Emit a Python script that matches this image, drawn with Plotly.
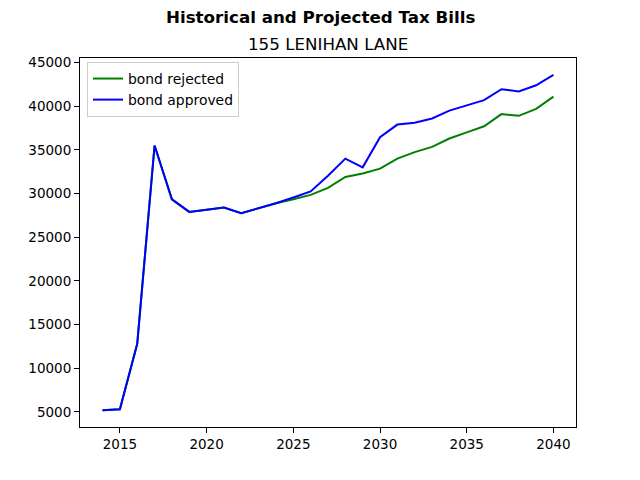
import plotly.graph_objects as go

years = list(range(2014, 2041))
bond_rejected = [5200, 5300, 12800, 35500, 29350, 27900, 28150, 28400, 27750, 28300,
                 28900, 29350, 29850, 30650, 31900, 32300, 32850, 34000, 34750, 35350,
                 36300, 37000, 37700, 39100, 38900, 39700, 41100]
bond_approved = [5200, 5300, 12800, 35500, 29350, 27900, 28150, 28400, 27750, 28300,
                 28900, 29550, 30250, 32050, 34000, 33000, 36450, 37900, 38100, 38600,
                 39500, 40100, 40700, 41950, 41700, 42400, 43600]
x_ticks = [2015, 2020, 2025, 2030, 2035, 2040]
y_ticks = [5000, 10000, 15000, 20000, 25000, 30000, 35000, 40000, 45000]

font = "DejaVu Sans"

fig = go.Figure()
fig.add_trace(go.Scatter(x=years, y=bond_rejected, mode="lines", name="bond rejected",
                         line=dict(color="#008000", width=2)))
fig.add_trace(go.Scatter(x=years, y=bond_approved, mode="lines", name="bond approved",
                         line=dict(color="#0000ff", width=2)))

axis_common = dict(showline=True, linecolor="black", linewidth=1, mirror=True,
                   showgrid=False, zeroline=False, ticks="outside", ticklen=5,
                   tickwidth=1, tickcolor="black",
                   tickfont=dict(family=font, size=13.5, color="black"))

plot_w = 640 - 80 - 64
plot_h = 480 - 58 - 53

fig.update_layout(
    width=640, height=480,
    margin=dict(l=80, r=64, t=58, b=53),
    paper_bgcolor="white", plot_bgcolor="white",
    font=dict(family=font, color="black"),
    xaxis=dict(range=[2012.7, 2041.3], tickvals=x_ticks, **axis_common),
    yaxis=dict(range=[3280, 45520], tickvals=y_ticks, tickformat="d", **axis_common),
    legend=dict(x=(87 - 80) / plot_w, y=1 - (62 - 58) / plot_h, xanchor="left", yanchor="top",
                bgcolor="rgba(255,255,255,0.8)", bordercolor="#cccccc", borderwidth=1,
                font=dict(family=font, size=13.9, color="black"),
                tracegroupgap=0, itemwidth=30),
    showlegend=True,
)
fig.add_annotation(text="<b>Historical and Projected Tax Bills</b>", xref="paper", yref="paper",
                   x=(320 - 80) / plot_w, y=1 + (58 - 17) / plot_h,
                   xanchor="center", yanchor="middle", showarrow=False,
                   font=dict(family=font, size=16.7, color="black"))
fig.add_annotation(text="155 LENIHAN LANE", xref="paper", yref="paper",
                   x=0.5, y=1 + (58 - 44) / plot_h, xanchor="center", yanchor="middle",
                   showarrow=False, font=dict(family=font, size=16.7, color="black"))

fig.write_html("out.html")
